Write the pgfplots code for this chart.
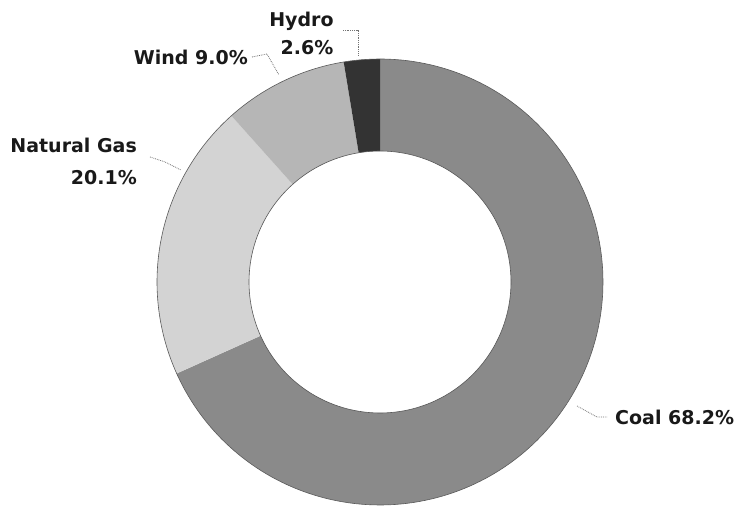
\documentclass[border=0pt]{standalone}
\usepackage{fontspec}
\setmainfont{DejaVu Sans}
\usepackage{pgfplots}
\usepackage{pgfplotstable}
\pgfplotsset{compat=1.18}

% shares in percent, clockwise from 12 o'clock
\pgfplotstableread{
source share
Coal 68.2
Gas 20.1
Wind 9.0
Hydro 2.6
}\shares

\definecolor{coalc}{HTML}{8A8A8A}
\definecolor{gasc}{HTML}{D3D3D3}
\definecolor{windc}{HTML}{B6B6B6}
\definecolor{hydroc}{HTML}{333333}

% ring geometry (1 unit = 1 px of the reference)
\def\cx{380}
\def\cy{224}
\def\Ro{223}
\def\Ri{131}

% one slice of the ring between angles #2 < #3
\newcommand{\slice}[3]{%
  \addplot[fill=#1, draw=none, domain=#2:#3, samples=90, variable=\t]
    ({\cx+\Ro*cos(\t)},{\cy+\Ro*sin(\t)})
    -- (axis cs:{\cx+\Ri*cos(#3)},{\cy+\Ri*sin(#3)})
    arc[start angle=#3, end angle=#2, radius=\Ri pt] -- cycle;
}

\pgfplotstablegetelem{0}{share}\of\shares \let\pcoal\pgfplotsretval
\pgfplotstablegetelem{1}{share}\of\shares \let\pgas\pgfplotsretval
\pgfplotstablegetelem{2}{share}\of\shares \let\pwind\pgfplotsretval
\pgfplotstablegetelem{3}{share}\of\shares \let\phydro\pgfplotsretval
\pgfmathsetmacro{\sc}{360/(\pcoal+\pgas+\pwind+\phydro)}
\pgfmathsetmacro{\aA}{90}
\pgfmathsetmacro{\aB}{\aA-\pcoal*\sc}
\pgfmathsetmacro{\aC}{\aB-\pgas*\sc}
\pgfmathsetmacro{\aD}{\aC-\pwind*\sc}
\pgfmathsetmacro{\aE}{\aD-\phydro*\sc}

\begin{document}%
\begin{tikzpicture}[
    lab/.style={inner sep=0pt, text=black!90,
      font=\fontsize{19}{22}\selectfont\bfseries},
    lead/.style={black!55, densely dotted, line width=0.8pt},
  ]
\begin{axis}[
    x=1pt, y=1pt,
    xmin=0, xmax=740, ymin=0, ymax=506,
    hide axis, clip=false,
  ]
  \addplot[draw=none] coordinates {(0,0) (740,506)};

  \slice{coalc}{\aB}{\aA}
  \slice{gasc}{\aC}{\aB}
  \slice{windc}{\aD}{\aC}
  \slice{hydroc}{\aE}{\aD}

  % thin darker edges of the ring
  \addplot[draw=black!65, line width=0.6pt, domain=0:360, samples=240, variable=\t]
    ({\cx+\Ro*cos(\t)},{\cy+\Ro*sin(\t)});
  \addplot[draw=black!65, line width=0.6pt, domain=0:360, samples=200, variable=\t]
    ({\cx+\Ri*cos(\t)},{\cy+\Ri*sin(\t)});

  % leader lines
  \draw[lead] (343,476) -- (358,476) -- (358,450);
  \draw[lead] (252,449) -- (267,452) -- (279,431);
  \draw[lead] (150,349) -- (165,344) -- (181,336);
  \draw[lead] (577,100) -- (597,89) -- (607,89);

  % labels
  \node[lab, anchor=base] at (301.5,479) {Hydro};
  \node[lab, anchor=base] at (307,451) {2.6\%};
  \node[lab, anchor=base east] at (248,441) {Wind 9.0\%};
  \node[lab, anchor=base east] at (137,353) {Natural Gas};
  \node[lab, anchor=base east] at (137,321) {20.1\%};
  \node[lab, anchor=base west] at (615,81) {Coal 68.2\%};
\end{axis}
\end{tikzpicture}%
\end{document}
